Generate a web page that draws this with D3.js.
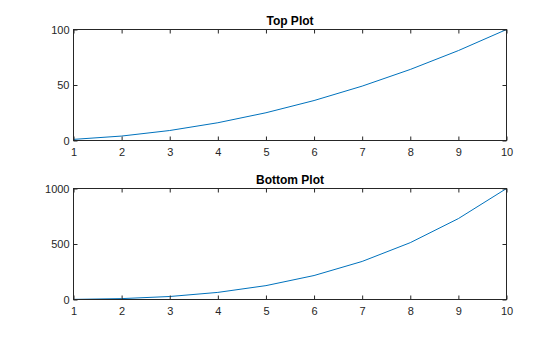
<!DOCTYPE html>
<html><head><meta charset="utf-8">
<script src="https://cdn.jsdelivr.net/npm/d3@7"></script>
<style>html,body{margin:0;padding:0;background:#fff;}svg{display:block;}</style>
</head><body>
<script>
const xValues = [1,2,3,4,5,6,7,8,9,10];
const topValues = [1,4,9,16,25,36,49,64,81,100];
const bottomValues = [1,8,27,64,125,216,343,512,729,1000];
const xTicks = [1,2,3,4,5,6,7,8,9,10];
const topYTicks = [0,50,100];
const bottomYTicks = [0,500,1000];
const titles = ["Top Plot","Bottom Plot"];

const W = 560, H = 337;
const svg = d3.select("body").append("svg").attr("width", W).attr("height", H);
const axCol = "#262626";
const font = "'Liberation Sans', Arial, Helvetica, sans-serif";

function panel(top, bottom, yValues, yTicks, yMax, title) {
  const x = d3.scaleLinear().domain([1,10]).range([73.5, 506.5]);
  const y = d3.scaleLinear().domain([0,yMax]).range([bottom, top]);
  const g = svg.append("g");
  g.append("path")
    .datum(xValues.map((v,i)=>[v,yValues[i]]))
    .attr("fill","none").attr("stroke","#0072BD").attr("stroke-width",1)
    .attr("d", d3.line().x(d=>x(d[0])).y(d=>y(d[1])));
  const ax = g.append("g").attr("transform",`translate(0,${bottom})`)
    .call(d3.axisBottom(x).tickValues(xTicks).tickSize(-4).tickPadding(8).tickFormat(d3.format("d")));
  const axT = g.append("g").attr("transform",`translate(0,${top})`)
    .call(d3.axisTop(x).tickValues(xTicks).tickSize(-4).tickFormat(""));
  const ayL = g.append("g").attr("transform",`translate(73.5,0)`)
    .call(d3.axisLeft(y).tickValues(yTicks).tickSize(-4).tickPadding(4).tickFormat(d3.format("d")));
  const ayR = g.append("g").attr("transform",`translate(506.5,0)`)
    .call(d3.axisRight(y).tickValues(yTicks).tickSize(-4).tickFormat(""));
  [ax,axT,ayL,ayR].forEach(a=>{
    a.select(".domain").remove();
    a.selectAll(".tick line").attr("stroke",axCol).attr("stroke-width",1);
    a.selectAll(".tick text").attr("fill",axCol).attr("font-size","11px").attr("font-family",font);
  });
  g.append("rect").attr("x",73.5).attr("y",top).attr("width",433).attr("height",bottom-top)
    .attr("fill","none").attr("stroke",axCol).attr("stroke-width",1);
  g.append("text").attr("x",(73.5+506.5)/2).attr("y",top-5)
    .attr("text-anchor","middle").attr("font-family",font).attr("font-weight","bold")
    .attr("font-size","12px").attr("fill","#000").text(title);
}
panel(29.5, 140.5, topValues, topYTicks, 100, titles[0]);
panel(188.5, 299.5, bottomValues, bottomYTicks, 1000, titles[1]);
</script>
</body></html>
